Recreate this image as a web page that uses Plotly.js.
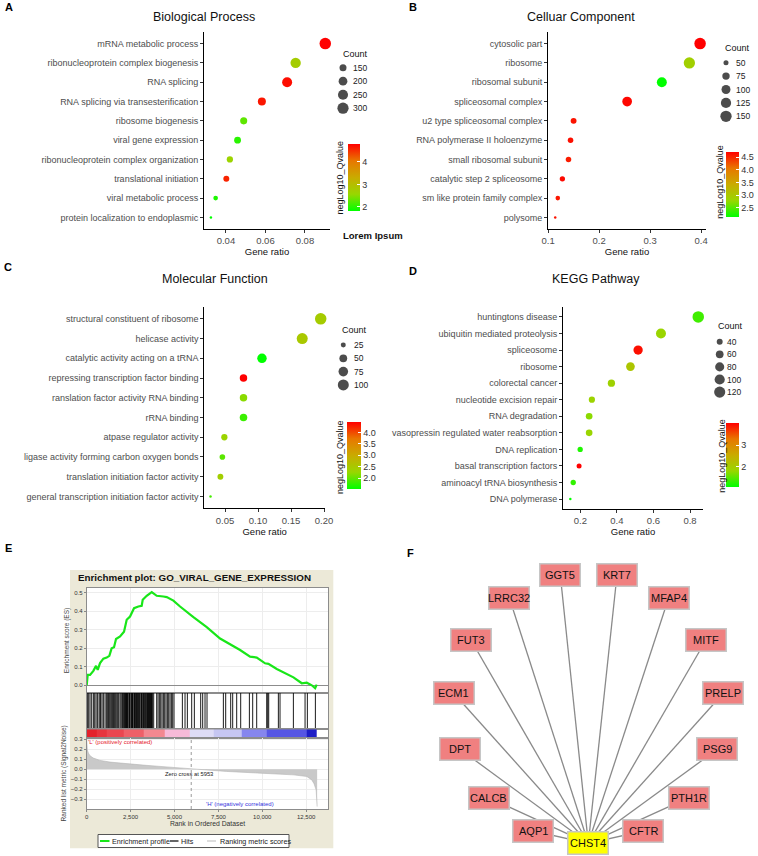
<!DOCTYPE html>
<html><head><meta charset="utf-8">
<script src="https://cdn.plot.ly/plotly-3.0.1.min.js"></script>
<style>html,body{margin:0;padding:0;background:#fff}#plot{width:758px;height:856px}</style>
</head><body><div id="plot"></div>
<script>
// ===================== DATA =====================
// A: Biological Process
const bpTerms = ['mRNA metabolic process','ribonucleoprotein complex biogenesis','RNA splicing','RNA splicing via transesterification','ribosome biogenesis','viral gene expression','ribonucleoprotein complex organization','translational initiation','viral metabolic process','protein localization to endoplasmic'];
const bpRatio = [0.0903,0.0753,0.0710,0.0582,0.0490,0.0459,0.0420,0.0402,0.0348,0.0324];
const bpCount = [315,262,248,178,152,146,134,127,108,95];
const bpQ     = [4.80,2.75,4.72,4.66,2.28,2.02,2.62,4.58,1.96,1.82];
const bpTicks = [0.04,0.06,0.08];
const bpLegend = [150,200,250,300];
const bpCbTicks = [2,3,4];

// B: Celluar Component
const ccTerms = ['cytosolic part','ribosome','ribosomal subunit','spliceosomal complex','u2 type spliceosomal complex','RNA polymerase II holoenzyme','small ribosomal subunit','catalytic step 2 spliceosome','sm like protein family complex','polysome'];
const ccRatio = [0.398,0.377,0.323,0.255,0.150,0.144,0.140,0.128,0.119,0.114];
const ccCount = [155,150,119,114,57,54,54,52,47,41];
const ccQ     = [4.70,2.90,2.14,4.66,4.60,4.62,4.55,4.65,4.58,4.60];
const ccTicks = [0.1,0.2,0.3,0.4];
const ccLegend = [50,75,100,125,150];
const ccCbTicks = [2.5,3.0,3.5,4.0,4.5];

// C: Molecular Function
const mfTerms = ['structural constituent of ribosome','helicase activity','catalytic activity acting on a tRNA','repressing transcription factor binding','ranslation factor activity RNA binding','rRNA binding','atpase regulator activity','ligase activity forming carbon oxygen bonds','translation initiation factor activity','general transcription initiation factor activity'];
const mfRatio = [0.195,0.167,0.106,0.078,0.078,0.078,0.049,0.046,0.043,0.028];
const mfCount = [110,101,73,46,46,47,34,29,31,18];
const mfQ     = [2.45,2.50,1.52,4.44,2.18,1.80,2.30,1.95,2.40,1.85];
const mfTicks = [0.05,0.10,0.15,0.20];
const mfLegend = [25,50,75,100];
const mfCbTicks = [2.0,2.5,3.0,3.5,4.0];

// D: KEGG Pathway
const kgTerms = ['huntingtons disease','ubiquitin mediated proteolysis','spliceosome','ribosome','colorectal cancer','nucleotide excision repair','RNA degradation','vasopressin regulated water reabsorption','DNA replication','basal transcription factors','aminoacyl tRNA biosynthesis','DNA polymerase'];
const kgRatio = [0.845,0.641,0.516,0.474,0.370,0.263,0.248,0.248,0.199,0.193,0.161,0.145];
const kgCount = [128,96,84,74,54,43,47,47,35,33,35,25];
const kgQ     = [1.35,1.82,3.96,2.10,1.88,1.85,1.72,1.82,1.18,4.05,1.28,1.03];
const kgTicks = [0.2,0.4,0.6,0.8];
const kgLegend = [40,60,80,100,120];
const kgCbTicks = [2,3];

// E: GSEA enrichment plot
const esRank  = [0,57,190,380,532,627,760,950,1140,1290,1420,1556,1670,1900,2125,2278,2468,2696,2943,3133,3190,3418,3703,3988,4368,4558,4937,5317,6077,6836,7596,8166,8735,9305,9685,10160,10350,10825,11300,11775,12250,12535,12820,13010,13100];
const esScore = [0.000,0.056,0.056,0.078,0.105,0.083,0.120,0.144,0.150,0.159,0.200,0.206,0.250,0.264,0.290,0.354,0.372,0.417,0.426,0.430,0.462,0.484,0.504,0.484,0.480,0.477,0.458,0.426,0.368,0.314,0.253,0.224,0.191,0.155,0.150,0.119,0.116,0.088,0.065,0.043,0.011,0.014,0.000,-0.016,0.004];
const hitRanks = [38,114,190,285,380,456,532,608,703,760,797,873,949,1044,1120,1196,1234,1291,1367,1424,1481,1519,1576,1633,1709,1766,1822,1898,1955,2012,2050,2088,2145,2180,2202,2240,2270,2297,2330,2354,2411,2440,2468,2525,2560,2582,2610,2639,2696,2720,2753,2790,2829,2860,2886,2930,2962,3000,3037,3094,3120,3151,3200,3227,3260,3303,3340,3379,3420,3455,3480,3512,3540,3569,3600,3626,3660,3683,3710,3740,3816,3987,4063,4139,4215,4290,4366,4442,4518,4594,4670,4746,4822,4898,4974,5448,5600,5733,5980,6131,6492,6606,6739,6853,7783,7916,8201,8315,8543,8771,9265,9454,9682,10252,10309,10366,10916,11011,11771,12436,12568,13024];
const metricRank = [0,38,95,190,380,760,1329,2278,3228,4177,4937,5848,7026,7975,9874,11773,12532,12820,12953,13067,13124];
const metricVal  = [0.293,0.190,0.160,0.133,0.110,0.087,0.070,0.053,0.040,0.027,0.017,0.000,-0.013,-0.023,-0.040,-0.057,-0.073,-0.107,-0.147,-0.207,-0.373];
const bandEdges  = [0,570,1140,2090,3230,4460,5850,7210,8830,10250,12530,13100];
const bandColors = ['#e3222c','#e6343e','#ea4650','#ee6068','#f28890','#f6bad8','#dedcf6','#c6c6f2','#8686ee','#5656e4','#1e1ec6'];
const zeroCross = 5953;
const rankTicks = [0,2500,5000,7500,10000,12500];
const esTicks = [0,0.1,0.2,0.3,0.4,0.5];
const metricTicks = [-0.3,-0.2,-0.1,0,0.1,0.2,0.3];

// F: network
const hubName = 'CHST4';
const nodeNames = ['GGT5','KRT7','LRRC32','MFAP4','FUT3','MITF','ECM1','PRELP','DPT','PSG9','CALCB','PTH1R','AQP1','CFTR'];
const nodeX = [560.3,617.0,509.3,668.7,471.0,706.0,453.7,723.3,460.0,717.3,488.7,688.7,533.3,643.3];
const nodeY = [575.0,575.0,597.7,597.7,640.0,640.0,693.3,693.3,749.3,749.3,797.7,797.7,831.0,831.0];
const hubX = 588.3, hubY = 843.3;

// ===================== BUILD =====================
const W = 758, H = 856;
const px = v => v / W;
const py = v => 1 - v / H;
const FONT = '"Liberation Sans", Arial, Helvetica, sans-serif';
const CS = [[0,'#00ff00'],[0.25,'rgb(152,215,0)'],[0.5,'rgb(201,171,0)'],[0.75,'rgb(232,119,0)'],[1,'#ff0000']];

const traces = [];
const layout = {
  width: W, height: H, margin: {l:0, r:0, t:0, b:0},
  paper_bgcolor: '#ffffff', plot_bgcolor: 'rgba(0,0,0,0)',
  showlegend: false, hovermode: false,
  font: {family: FONT, color: '#222'},
  annotations: [], shapes: []
};
function ann(o) { layout.annotations.push(Object.assign({xref:'paper', yref:'paper', showarrow:false}, o)); }

function dotPanel(P) {
  const s = P.idx === 1 ? '' : String(P.idx);
  const ls = String(P.idx + 4);
  const cmin = Math.min(...P.count), cmax = Math.max(...P.count);
  const size = c => 2.5 + 9 * Math.sqrt(Math.max(0, (c - cmin) / (cmax - cmin)));
  traces.push({
    type:'scatter', mode:'markers', x:P.ratio, y:P.terms, xaxis:'x'+s, yaxis:'y'+s,
    cliponaxis:false, hoverinfo:'skip',
    marker:{size:P.count.map(size), color:P.q, colorscale:CS, cmin:Math.min(...P.q), cmax:Math.max(...P.q),
      line:{width:0}, opacity:1, showscale:true,
      colorbar:{x:px(P.cb.x), xanchor:'left', y:py(P.cb.y), yanchor:'top', len:P.cb.len, lenmode:'pixels',
        thickness:P.cb.w, thicknessmode:'pixels', xpad:0, ypad:0, outlinewidth:0,
        ticks:'inside', ticklen:3, tickwidth:1, tickcolor:'#ffffff',
        tickvals:P.cbTicks, tickformat:P.cbFmt, tickfont:{size:9, color:'#333', family:FONT}, title:{text:''}}}
  });
  layout['xaxis'+s] = {domain:[px(P.x0), px(P.x1)], range:P.xr, anchor:'y'+s,
    showline:true, linecolor:'#000', linewidth:1, ticks:'outside', ticklen:3, tickwidth:1, tickcolor:'#333',
    tickvals:P.xt, tickformat:P.xf, tickfont:{size:9.5, color:'#4d4d4d'},
    showgrid:false, zeroline:false, fixedrange:true,
    title:{text:'Gene ratio', font:{size:9.5, color:'#111'}, standoff:2}};
  layout['yaxis'+s] = {domain:[py(P.y1), py(P.y0)], type:'category', categoryorder:'array', categoryarray:P.terms,
    range:[P.terms.length - 0.4, -0.6], anchor:'x'+s,
    showline:true, linecolor:'#000', linewidth:1, ticks:'outside', ticklen:3, tickwidth:1, tickcolor:'#333',
    tickfont:{size:9, color:'#4d4d4d'}, showgrid:false, zeroline:false, fixedrange:true};
  // size legend
  const L = P.leg;
  const yLast = L.y0 + (P.legend.length - 1) * L.step;
  layout['xaxis'+ls] = {domain:[px(L.x-12), px(L.x+12)], range:[L.x-12, L.x+12], anchor:'y'+ls, visible:false, fixedrange:true};
  layout['yaxis'+ls] = {domain:[py(yLast+9), py(L.y0-9)], range:[yLast+9, L.y0-9], anchor:'x'+ls, visible:false, fixedrange:true};
  traces.push({type:'scatter', mode:'markers', xaxis:'x'+ls, yaxis:'y'+ls, hoverinfo:'skip', cliponaxis:false,
    x:P.legend.map(() => L.x), y:P.legend.map((v,i) => L.y0 + i*L.step),
    marker:{size:P.legend.map(size), color:'#000', line:{width:0}}});
  P.legend.forEach((v,i) => ann({x:px(L.lx), y:py(L.y0 + i*L.step), xanchor:'left', yanchor:'middle',
    text:String(v), font:{size:8.5, color:'#222'}}));
  ann({x:px(L.tx), y:py(L.ty), xanchor:'left', yanchor:'middle', text:'Count', font:{size:9, color:'#111'}});
  ann({x:px(P.cbt.x), y:py(P.cbt.y), xanchor:'center', yanchor:'middle', textangle:-90,
    text:'negLog10_Qvalue', font:{size:9, color:'#111'}});
  ann({x:px(P.tt.x), y:py(P.tt.y), xanchor:'center', yanchor:'middle', text:P.title, font:{size:12.5, color:'#111'}});
}

dotPanel({idx:1, terms:bpTerms, ratio:bpRatio, count:bpCount, q:bpQ, legend:bpLegend, cbTicks:bpCbTicks, cbFmt:'d',
  title:'Biological Process', tt:{x:204.3, y:17}, x0:204, x1:330, y0:32, y1:229, xr:[0.0289,0.0927], xt:bpTicks, xf:'.2f',
  cb:{x:348, y:144, len:67, w:12}, cbt:{x:340, y:177.5},
  leg:{x:343, y0:67.7, step:13.5, lx:350.5, tx:341, ty:53.7}});
dotPanel({idx:2, terms:ccTerms, ratio:ccRatio, count:ccCount, q:ccQ, legend:ccLegend, cbTicks:ccCbTicks, cbFmt:'.1f',
  title:'Celluar Component', tt:{x:580.5, y:17}, x0:548, x1:706, y0:32, y1:229, xr:[0.0998,0.4096], xt:ccTicks, xf:'.1f',
  cb:{x:726.3, y:152, len:65, w:12.5}, cbt:{x:719.7, y:182},
  leg:{x:726, y0:62.7, step:13.4, lx:733.5, tx:722.5, ty:48}});
dotPanel({idx:3, terms:mfTerms, ratio:mfRatio, count:mfCount, q:mfQ, legend:mfLegend, cbTicks:mfCbTicks, cbFmt:'.1f',
  title:'Molecular Function', tt:{x:214.7, y:278.5}, x0:204.3, x1:325, y0:307, y1:508.3, xr:[0.0186,0.2015], xt:mfTicks, xf:'.2f',
  cb:{x:346.7, y:422.3, len:67, w:14}, cbt:{x:340, y:457},
  leg:{x:343.3, y0:345, step:13.3, lx:351.5, tx:340.2, ty:330.3}});
dotPanel({idx:4, terms:kgTerms, ratio:kgRatio, count:kgCount, q:kgQ, legend:kgLegend, cbTicks:kgCbTicks, cbFmt:'d',
  title:'KEGG Pathway', tt:{x:596.3, y:278.5}, x0:563, x1:703, y0:307, y1:509, xr:[0.105,0.871], xt:kgTicks, xf:'.1f',
  cb:{x:725.7, y:423, len:64, w:13}, cbt:{x:721.7, y:456},
  leg:{x:719.7, y0:341.7, step:12.6, lx:724.8, tx:715.8, ty:326.3}});

ann({x:px(341.2), y:py(235), xanchor:'left', yanchor:'middle', text:'<b>Lorem Ipsum</b>', font:{size:9.5, color:'#111'}});

// panel letters
[['A',9,7],['B',413,7],['C',8,267],['D',413,271],['E',8,548],['F',410.5,553]].forEach(l =>
  ann({x:px(l[1]), y:py(l[2]), xanchor:'center', yanchor:'middle', text:'<b>'+l[0]+'</b>', font:{size:11, color:'#000'}}));

// ---------- E ----------
layout.shapes.push({type:'rect', xref:'paper', yref:'paper', x0:px(70), x1:px(333.3), y0:py(848.3), y1:py(570), fillcolor:'#ece9d8', line:{width:0}, layer:'below'});
layout.shapes.push({type:'rect', xref:'paper', yref:'paper', x0:px(86.7), x1:px(328.3), y0:py(809), y1:py(588), fillcolor:'#ffffff', line:{width:0}, layer:'below'});
const eDom = [px(86.7), px(328.3)];
const eFrame = {showline:true, mirror:true, linecolor:'#8c8c8c', linewidth:1, zeroline:false, fixedrange:true};
const eX = Object.assign({}, eFrame, {domain:eDom, range:[0,13760], tickvals:rankTicks});
layout.xaxis9  = Object.assign({}, eX, {anchor:'y9', showticklabels:false, ticks:'', showgrid:true, gridcolor:'#ededed'});
layout.xaxis10 = Object.assign({}, eX, {anchor:'y10', showticklabels:false, ticks:'', showgrid:false});
layout.xaxis11 = Object.assign({}, eX, {anchor:'y11', showticklabels:false, ticks:'', showgrid:false});
layout.xaxis12 = Object.assign({}, eX, {anchor:'y12', showgrid:true, gridcolor:'#ededed', ticks:'outside', ticklen:2, tickcolor:'#888',
  tickformat:',d', tickfont:{size:6, color:'#333'}, title:{text:'Rank in Ordered Dataset', font:{size:6.8, color:'#333'}, standoff:2}});
layout.yaxis9  = Object.assign({}, eFrame, {domain:[py(693), py(588)], range:[-0.0416,0.526], anchor:'x9', tickvals:esTicks, tickformat:'.1f',
  ticks:'outside', ticklen:2, tickcolor:'#888', tickfont:{size:6, color:'#333'}, showgrid:true, gridcolor:'#ededed',
  zeroline:true, zerolinecolor:'#8c8c8c', zerolinewidth:1, title:{text:'Enrichment score (ES)', font:{size:6.5, color:'#444'}, standoff:3}});
layout.yaxis10 = Object.assign({}, eFrame, {domain:[py(729.3), py(693)], range:[0,1], anchor:'x10', showticklabels:false, ticks:'', showgrid:false});
layout.yaxis11 = Object.assign({}, eFrame, {domain:[py(737.7), py(729.3)], range:[-0.5,0.5], anchor:'x11', showticklabels:false, ticks:'', showgrid:false});
layout.yaxis12 = Object.assign({}, eFrame, {domain:[py(809), py(737.7)], range:[-0.397,0.313], anchor:'x12', tickvals:metricTicks, tickformat:'.1f',
  ticks:'outside', ticklen:2, tickcolor:'#888', tickfont:{size:6, color:'#333'}, showgrid:true, gridcolor:'#ededed',
  title:{text:'Ranked list metric (Signal2Noise)', font:{size:6.5, color:'#444'}, standoff:3}});

traces.push({type:'scatter', mode:'lines', name:'Ranking metric scores', x:metricRank, y:metricVal, xaxis:'x12', yaxis:'y12',
  fill:'tozeroy', fillcolor:'#c9c9c9', line:{color:'#b5b5b5', width:0.6}, hoverinfo:'skip'});
traces.push({type:'heatmap', x:bandEdges, y:[0], z:[bandColors.map((c,i) => i)], zmin:0, zmax:bandColors.length-1,
  colorscale:bandColors.map((c,i) => [i/(bandColors.length-1), c]), showscale:false, xaxis:'x11', yaxis:'y11', hoverinfo:'skip'});
traces.push({type:'scatter', mode:'lines', name:'Hits', x:hitRanks.flatMap(h => [h,h,null]), y:hitRanks.flatMap(() => [0,1,null]),
  xaxis:'x10', yaxis:'y10', line:{color:'#000', width:0.9}, hoverinfo:'skip'});
traces.push({type:'scatter', mode:'lines', name:'Enrichment profile', x:esRank, y:esScore, xaxis:'x9', yaxis:'y9',
  line:{color:'#19e619', width:2.2}, hoverinfo:'skip', cliponaxis:false});
layout.shapes.push({type:'line', xref:'x12', yref:'y12 domain', x0:zeroCross, x1:zeroCross, y0:0, y1:1, line:{color:'#9a9a9a', width:1, dash:'dot'}});

ann({x:px(194.5), y:py(577.3), xanchor:'center', yanchor:'middle', text:'<b>Enrichment plot: GO_VIRAL_GENE_EXPRESSION</b>', font:{size:9.8, color:'#111'}});
ann({x:px(86), y:py(741.5), xanchor:'left', yanchor:'middle', text:"'L' (positively correlated)", font:{size:6, color:'#e5202a'}});
ann({x:px(189.3), y:py(774), xanchor:'center', yanchor:'middle', text:'Zero cross at ' + zeroCross, font:{size:5.8, color:'#222'}});
ann({x:px(240), y:py(804), xanchor:'center', yanchor:'middle', text:"'H' (negatively correlated)", font:{size:6, color:'#3535dd'}});
// E legend (drawn key)
layout.shapes.push({type:'rect', xref:'paper', yref:'paper', x0:px(98), x1:px(289), y0:py(847.5), y1:py(834.5), fillcolor:'#ffffff', line:{color:'#555', width:1}});
[[100,109.5,'#19e619',2,'Enrichment profile',110.2],[170,178.5,'#333333',1.5,'Hits',178.8],[207,216,'#dddddd',2,'Ranking metric scores',217.8]].forEach(k => {
  layout.shapes.push({type:'line', xref:'paper', yref:'paper', x0:px(k[0]), x1:px(k[1]), y0:py(841), y1:py(841), line:{color:k[2], width:k[3]}});
  ann({x:px(k[5]), y:py(841), xanchor:'left', yanchor:'middle', text:k[4], font:{size:7.2, color:'#222'}});
});

// ---------- F ----------
layout.xaxis13 = {domain:[px(420), px(758)], range:[420,758], anchor:'y13', visible:false, fixedrange:true};
layout.yaxis13 = {domain:[py(856), py(560)], range:[856,560], anchor:'x13', visible:false, fixedrange:true};
traces.push({type:'scatter', mode:'lines', xaxis:'x13', yaxis:'y13', hoverinfo:'skip', cliponaxis:false,
  x:nodeX.flatMap(x => [x, hubX, null]), y:nodeY.flatMap(y => [y, hubY, null]),
  line:{color:'#8a8a8a', width:1.3}});
function node(x, y, name, fill) {
  layout.annotations.push({xref:'x13', yref:'y13', x:x, y:y, text:' ', width:37, height:19, bgcolor:fill,
    bordercolor:'#c6c6c6', borderwidth:1.5, borderpad:1, showarrow:false});
  layout.annotations.push({xref:'x13', yref:'y13', x:x, y:y, text:name, showarrow:false, font:{size:11, color:'#111'}});
}
nodeNames.forEach((n,i) => node(nodeX[i], nodeY[i], n, '#f08080'));
node(hubX, hubY, hubName, '#ffff00');

Plotly.newPlot('plot', traces, layout, {staticPlot:true, displayModeBar:false});
</script>
</body></html>
